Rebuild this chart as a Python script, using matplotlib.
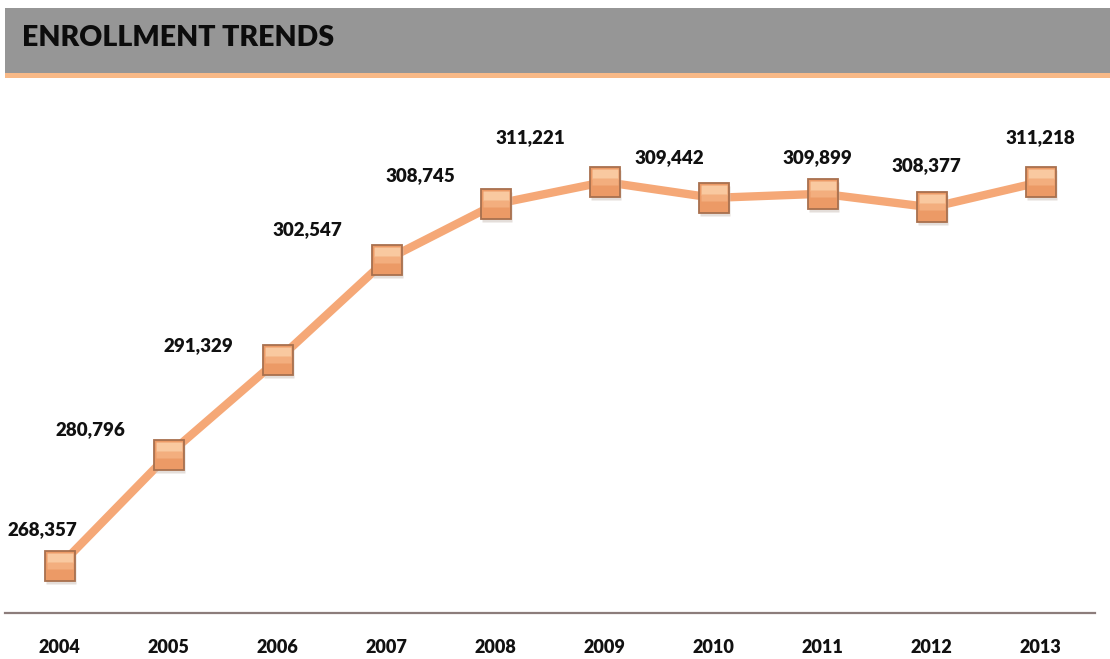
import matplotlib.pyplot as plt
import matplotlib.transforms as mtransforms
from matplotlib.patches import Rectangle
from matplotlib.path import Path

# Enrollment by year
years = ['2004', '2005', '2006', '2007', '2008', '2009', '2010', '2011', '2012', '2013']
enrollment = [268357, 280796, 291329, 302547, 308745, 311221, 309442, 309899, 308377, 311218]

# label offsets from each marker, in pixels (dx, dy)
label_offsets = [(-17, 36), (-78, 25), (-79, 15), (-79, 30), (-75, 29),
                 (-74, 44), (-44, 40), (-5, 36), (-5, 42), (0, 44)]

line_color = '#f5a877'
marker_face = '#ec9a66'
marker_edge = '#a8704e'
font = ['Lato', 'DejaVu Sans']

fig = plt.figure(figsize=(11.1, 6.59), dpi=100)
fig.patch.set_facecolor('white')

# header band with orange underline
fig.patches.append(Rectangle((5 / 1110, 1 - 73 / 659), 1, 65 / 659, transform=fig.transFigure,
                             facecolor='#969696', edgecolor='none', zorder=0))
fig.patches.append(Rectangle((5 / 1110, 1 - 78 / 659), 1, 5 / 659, transform=fig.transFigure,
                             facecolor='#f8b987', edgecolor='none', zorder=0))
fig.text(22 / 1110, 1 - 38 / 659, 'ENROLLMENT TRENDS', fontsize=20.5, fontweight='heavy',
         family=font, color='#0c0c0c', va='center', ha='left')

ax = fig.add_axes([5 / 1110, 1 - 613 / 659, 1090 / 1110, 523 / 659])
x = list(range(len(years)))
ax.plot(x, enrollment, color=line_color, linewidth=6, solid_capstyle='butt', zorder=2)

# soft shadow under each marker
shadow = ax.transData + mtransforms.ScaledTranslation(1 / 100, -3 / 100, fig.dpi_scale_trans)
ax.plot(x, enrollment, linestyle='none', marker='s', markersize=22,
        markerfacecolor='#cfc3bc', markeredgecolor='none', alpha=0.55, zorder=3,
        transform=shadow)
ax.plot(x, enrollment, linestyle='none', marker='s', markersize=21,
        markerfacecolor=marker_face, markeredgecolor=marker_edge, markeredgewidth=1.3, zorder=4)

# pale band across the top of each marker
top_band = Path([(-1, 0.25), (1, 0.25), (1, 1), (-1, 1), (-1, 0.25)],
                [Path.MOVETO, Path.LINETO, Path.LINETO, Path.LINETO, Path.CLOSEPOLY])
ax.plot(x, enrollment, linestyle='none', marker=top_band, markersize=19,
        markerfacecolor='#f9c9a0', markeredgecolor='none', zorder=5)
mid_band = Path([(-1, -0.2), (1, -0.2), (1, 0.3), (-1, 0.3), (-1, -0.2)],
                [Path.MOVETO, Path.LINETO, Path.LINETO, Path.LINETO, Path.CLOSEPOLY])
ax.plot(x, enrollment, linestyle='none', marker=mid_band, markersize=19,
        markerfacecolor='#f3ae7e', markeredgecolor='none', zorder=5)

for xi, val, (dx, dy) in zip(x, enrollment, label_offsets):
    ax.annotate(f'{val:,}', (xi, val), xytext=(dx, dy), textcoords='offset pixels',
                ha='center', va='center', fontsize=13.5, fontweight='heavy',
                family=font, color='#111111')

ax.set_xlim(-0.5, len(years) - 0.5)
ax.set_ylim(263112, 321479)
ax.set_xticks(x)
ax.set_xticklabels(years, fontsize=13, fontweight='heavy', family=font, color='#111111')
ax.tick_params(axis='x', length=0, pad=19)
ax.set_yticks([])
for side in ['top', 'left', 'right']:
    ax.spines[side].set_visible(False)
ax.spines['bottom'].set_color('#8c7d7b')
ax.spines['bottom'].set_linewidth(1.6)
ax.set_facecolor('white')

fig.savefig('out.png', dpi=100)
